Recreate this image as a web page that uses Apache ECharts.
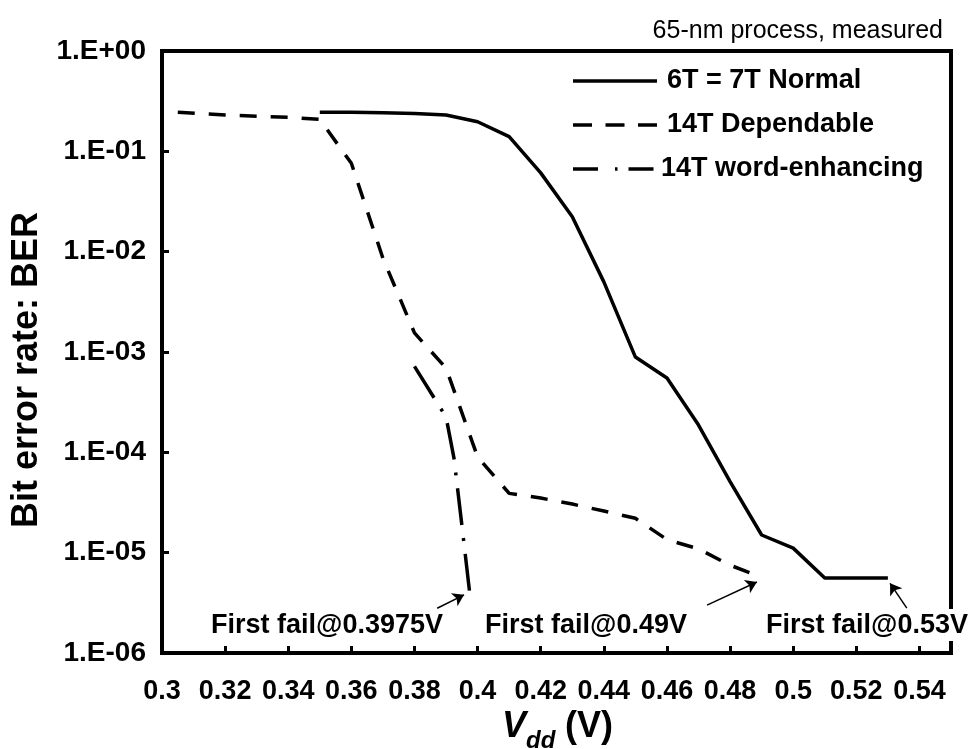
<!DOCTYPE html>
<html>
<head>
<meta charset="utf-8">
<script src="https://cdn.jsdelivr.net/npm/echarts@6/dist/echarts.min.js"></script>
<style>
  html, body { margin: 0; padding: 0; background: #fff; }
  #chart { width: 973px; height: 749px; }
</style>
</head>
<body>
<div id="chart"></div>
<script>
// Measured bit error rate versus supply voltage, 65-nm SRAM test chip
const normalVdd = [0.35, 0.36, 0.37, 0.38, 0.39, 0.40, 0.41, 0.42, 0.43, 0.44, 0.45, 0.46, 0.47, 0.48, 0.49, 0.50, 0.51, 0.52, 0.53];
const normalBer = [0.245, 0.245, 0.243, 0.238, 0.23, 0.197, 0.14, 0.061, 0.0223, 0.0050, 8.9e-4, 5.5e-4, 1.87e-4, 5.1e-5, 1.5e-5, 1.11e-5, 5.6e-6, 5.6e-6, 5.6e-6];

const dependVdd = [0.305, 0.32, 0.34, 0.35, 0.36, 0.37, 0.38, 0.39, 0.40, 0.41, 0.42, 0.43, 0.44, 0.45, 0.46, 0.47, 0.48, 0.49];
const dependBer = [0.245, 0.23, 0.218, 0.208, 0.076, 8.6e-3, 1.55e-3, 6.9e-4, 9.0e-5, 3.9e-5, 3.5e-5, 3.05e-5, 2.6e-5, 2.2e-5, 1.35e-5, 1.09e-5, 7.5e-6, 5.7e-6];

const wordVdd = [0.38, 0.39, 0.3925, 0.395, 0.3975];
const wordBer = [7.2e-4, 2.25e-4, 8.8e-5, 1.9e-5, 3.96e-6];

const seriesNames = ['6T = 7T Normal', '14T Dependable', '14T word-enhancing'];
const yTickLabels = ['1.E-06', '1.E-05', '1.E-04', '1.E-03', '1.E-02', '1.E-01', '1.E+00'];

// First-failure voltages and the annotation text pointing at them
const firstFailVdd = [0.3975, 0.49, 0.53];
const firstFailText = ['First fail@0.3975V', 'First fail@0.49V', 'First fail@0.53V'];

const FONT = '"Liberation Sans", Arial, Helvetica, sans-serif';
const pairs = (xs, ys) => xs.map((x, i) => [x, ys[i]]);

const chart = echarts.init(document.getElementById('chart'), null, { renderer: 'canvas' });

// Arrow from a label position to the end of a curve, in data coordinates
function arrow(from, to) {
  return {
    silent: true,
    symbol: ['none', 'arrow'],
    symbolSize: 11,
    label: { show: false },
    lineStyle: { color: '#000', width: 1.5, type: 'solid' },
    itemStyle: { color: '#000' },
    emphasis: { disabled: true },
    data: [[{ coord: from }, { coord: to }]]
  };
}

const option = {
  animation: false,
  backgroundColor: '#fff',
  grid: {
    left: 162, right: 22, top: 51, bottom: 96,
    show: true, borderColor: '#000', borderWidth: 4, backgroundColor: 'transparent'
  },
  xAxis: {
    type: 'value', min: 0.3, max: 0.55, interval: 0.02,
    axisLine: { show: false },
    axisTick: { show: true, inside: true, length: 7, lineStyle: { color: '#000', width: 3 } },
    splitLine: { show: false },
    axisLabel: {
      showMaxLabel: false, margin: 25, color: '#000',
      fontSize: 27, fontWeight: 'bold', fontFamily: FONT
    }
  },
  yAxis: {
    type: 'log', logBase: 10, min: 1e-6, max: 1,
    axisLine: { show: false },
    axisTick: { show: true, inside: true, length: 7, lineStyle: { color: '#000', width: 3 } },
    minorTick: { show: false },
    splitLine: { show: false },
    axisLabel: {
      margin: 16, color: '#000', fontSize: 28, fontWeight: 'bold', fontFamily: FONT,
      formatter: v => yTickLabels[Math.round(Math.log10(v)) + 6]
    }
  },
  series: [
    {
      name: seriesNames[0], type: 'line', data: pairs(normalVdd, normalBer),
      symbol: 'none', smooth: false,
      lineStyle: { color: '#000', width: 3.5, type: 'solid', cap: 'butt' },
      markLine: arrow([0.536, 2.8e-6], [firstFailVdd[2] + 0.0007, 4.95e-6])
    },
    {
      name: seriesNames[1], type: 'line', data: pairs(dependVdd, dependBer),
      symbol: 'none', smooth: false,
      lineStyle: { color: '#000', width: 3.5, type: [17, 14], cap: 'butt' },
      markLine: arrow([0.4727, 3.0e-6], [firstFailVdd[1] - 0.0015, 5.1e-6])
    },
    {
      name: seriesNames[2], type: 'line', data: pairs(wordVdd, wordBer),
      symbol: 'none', smooth: false,
      lineStyle: { color: '#000', width: 3.5, type: [37, 13, 3, 13], cap: 'butt' },
      markLine: arrow([0.3872, 2.79e-6], [firstFailVdd[0] - 0.0018, 3.8e-6])
    }
  ],
  graphic: [
    // caption
    { type: 'text', z: 100, x: 943, y: 31,
      style: { text: '65-nm process, measured', font: '25px ' + FONT, fill: '#000', textAlign: 'right', textVerticalAlign: 'middle' } },
    // legend
    { type: 'line', z: 100, shape: { x1: 573, y1: 81, x2: 657, y2: 81 },
      style: { stroke: '#000', lineWidth: 3.5 } },
    { type: 'text', z: 100, x: 667, y: 81,
      style: { text: seriesNames[0], font: 'bold 27px ' + FONT, fill: '#000', textVerticalAlign: 'middle' } },
    { type: 'line', z: 100, shape: { x1: 573, y1: 125, x2: 657, y2: 125 },
      style: { stroke: '#000', lineWidth: 3.5, lineDash: [19, 13.5] } },
    { type: 'text', z: 100, x: 667, y: 125,
      style: { text: seriesNames[1], font: 'bold 27px ' + FONT, fill: '#000', textVerticalAlign: 'middle' } },
    { type: 'line', z: 100, shape: { x1: 573, y1: 169, x2: 657, y2: 169 },
      style: { stroke: '#000', lineWidth: 3.5, lineDash: [25, 17, 2.5, 11] } },
    { type: 'text', z: 100, x: 661, y: 169,
      style: { text: seriesNames[2], font: 'bold 27px ' + FONT, fill: '#000', textVerticalAlign: 'middle' } },
    // first-failure annotations
    { type: 'text', z: 100, x: 327, y: 626,
      style: { text: firstFailText[0], font: 'bold 27px ' + FONT, fill: '#000', textAlign: 'center', textVerticalAlign: 'middle' } },
    { type: 'text', z: 100, x: 586, y: 626,
      style: { text: firstFailText[1], font: 'bold 27px ' + FONT, fill: '#000', textAlign: 'center', textVerticalAlign: 'middle' } },
    { type: 'rect', z: 100, shape: { x: 763, y: 609, width: 208, height: 32 },
      style: { fill: '#fff' } },
    { type: 'text', z: 101, x: 867, y: 626,
      style: { text: firstFailText[2], font: 'bold 27px ' + FONT, fill: '#000', textAlign: 'center', textVerticalAlign: 'middle' } },
    // axis titles
    { type: 'text', z: 100, x: 27, y: 370, rotation: Math.PI / 2,
      style: { text: 'Bit error rate: BER', font: 'bold 36px ' + FONT, fill: '#000', textAlign: 'center', textVerticalAlign: 'middle' } },
    { type: 'text', z: 100, x: 502, y: 727,
      style: { text: 'V', font: 'italic bold 36px ' + FONT, fill: '#000', textAlign: 'left', textVerticalAlign: 'middle' } },
    { type: 'text', z: 100, x: 526, y: 741,
      style: { text: 'dd', font: 'italic bold 24px ' + FONT, fill: '#000', textAlign: 'left', textVerticalAlign: 'middle' } },
    { type: 'text', z: 100, x: 613, y: 727,
      style: { text: '(V)', font: 'bold 36px ' + FONT, fill: '#000', textAlign: 'right', textVerticalAlign: 'middle' } }
  ]
};

chart.setOption(option);
</script>
</body>
</html>
